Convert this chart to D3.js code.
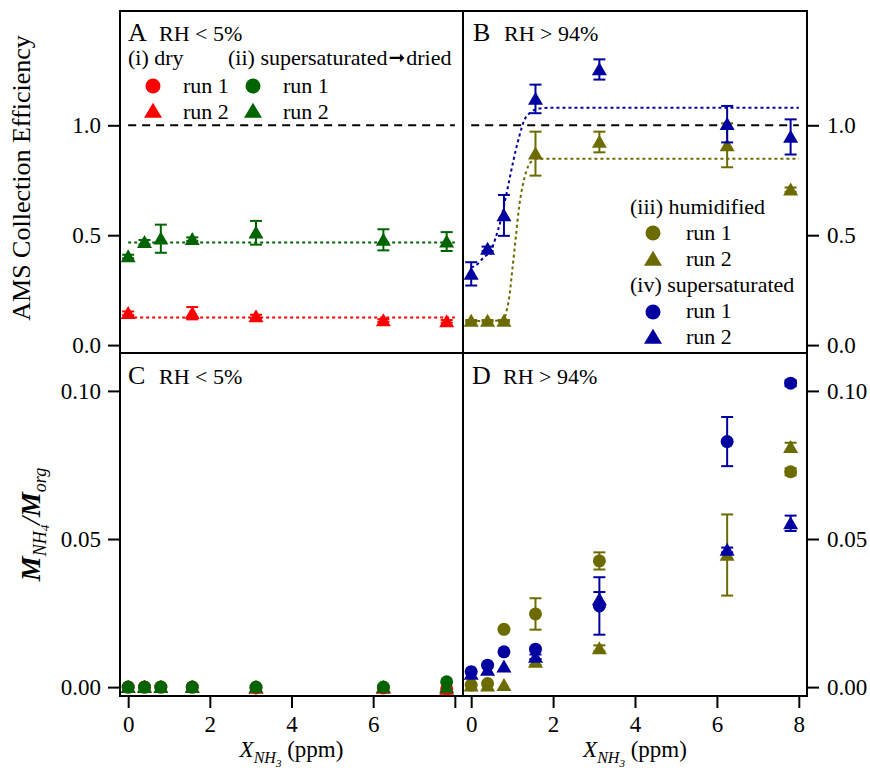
<!DOCTYPE html>
<html><head><meta charset="utf-8">
<script src="https://cdn.jsdelivr.net/npm/d3@7"></script>
<style>
body{margin:0;background:#fff;}
svg{display:block;}
text{font-family:"Liberation Serif","Times New Roman",serif;fill:#000;}
</style></head><body>
<svg id="chart" width="870" height="771"></svg>
<script>
// ---------------- DATA ----------------
const xVals = [0, 0.4, 0.8, 1.57, 3.13, 6.25, 7.8];     // X_NH3 (ppm)
const xTicks = [0, 2, 4, 6, 8];
const ceTicks = [0, 0.5, 1.0];
const ratioTicks = [0, 0.05, 0.10];

// Panel A: RH < 5% (collection efficiency)
const dryRun2X = [0, 1.57, 3.13, 6.25, 7.8];
const dryRun2CE = [0.145, 0.145, 0.13, 0.112, 0.108];
const dryRun2CEErr = [0.008, 0.028, 0.008, 0.006, 0.006];
const dryFitCE = 0.125;
const ssDriedRun2CE = [0.403, 0.468, 0.484, 0.482, 0.511, 0.479, 0.471];
const ssDriedRun2CEErr = [0.008, 0.01, 0.064, 0.008, 0.054, 0.048, 0.043];
const ssDriedFitCE = 0.467;
const flatFitX = [0, 8];
const unityX = [0, 8];

// Panel B: RH > 94% (collection efficiency)
const humRun2CE = [0.11, 0.11, 0.11, 0.871, 0.924, 0.909, 0.707];
const humRun2CEErr = [0.004, 0.004, 0.004, 0.1, 0.047, 0.1, 0.01];
const ssRun2CE = [0.324, 0.438, 0.59, 1.12, 1.254, 1.005, 0.947];
const ssRun2CEErr = [0.053, 0.01, 0.093, 0.065, 0.046, 0.083, 0.08];
const ssFitX  = [0, 0.11, 0.31, 0.48, 0.6, 0.72, 0.845, 0.93, 1.05, 1.17, 1.29, 1.46, 1.66, 2.0, 8.0];
const ssFitCE = [0.354, 0.362, 0.40, 0.43, 0.49, 0.567, 0.673, 0.75, 0.856, 0.947, 1.02, 1.06, 1.076, 1.08, 1.08];
const humFitX  = [0, 0.4, 0.8, 0.845, 0.93, 1.01, 1.09, 1.17, 1.25, 1.34, 1.46, 1.66, 2.0, 8.0];
const humFitCE = [0.11, 0.11, 0.115, 0.142, 0.218, 0.354, 0.491, 0.628, 0.719, 0.787, 0.833, 0.848, 0.848, 0.848];

// Panel C: RH < 5% (M_NH4/M_org)
const dryRun1Ratio     = [0, 0, 0, 0, -0.0003, -0.0003, -0.0006];
const dryRun2Ratio     = [0, 0, 0, 0, -0.0003, -0.0003, -0.0006];
const ssDriedRun1Ratio = [0, 0, 0, 0, 0, 0, 0.0018];
const ssDriedRun2Ratio = [0, 0, 0, 0, 0, 0, 0];

// Panel D: RH > 94% (M_NH4/M_org)
const humRun1X = [0, 0.4, 0.8, 1.57, 3.13, 7.8];
const humRun1Ratio = [0.0007, 0.0012, 0.0195, 0.0247, 0.0426, 0.0727];
const humRun1Err   = [0, 0, 0, 0.0053, 0.0029, 0.0012];
const humRun2Ratio = [0.0005, 0.0005, 0.0007, 0.0085, 0.0131, 0.0446, 0.081];
const humRun2Err   = [0, 0, 0, 0.001, 0.001, 0.0137, 0.0015];
const ssRun1Ratio  = [0.0052, 0.0074, 0.0119, 0.0128, 0.0274, 0.0829, 0.1026];
const ssRun1Err    = [0, 0, 0, 0, 0.0097, 0.0083, 0.001];
const ssRun2Ratio  = [0.0045, 0.0058, 0.0069, 0.0102, 0.0296, 0.0463, 0.0553];
const ssRun2Err    = [0, 0, 0, 0.0008, 0.0025, 0.0008, 0.0026];

// ---------------- STYLE ----------------
const RED = "#ff0000", GREEN = "#006400", OLIVE = "#6b6b00", BLUE = "#0000a0";
const SERIF = '"Liberation Serif","Times New Roman",serif';
const SANS = '"Liberation Sans",Arial,sans-serif';

const svg = d3.select("#chart");
const L = 120, M = 463, R = 807, T = 11, HM = 353, B = 696;

const xL = d3.scaleLinear().domain([-0.2, 8.2]).range([L, M]);
const xR = d3.scaleLinear().domain([-0.2, 8.2]).range([M, R]);
const yT = d3.scaleLinear().domain([-0.036, 1.52]).range([HM, T]);
const yB = d3.scaleLinear().domain([-0.003, 0.1128]).range([B, HM]);

function triType(w, h) {
  return { draw(ctx) { ctx.moveTo(0, -h * 0.55); ctx.lineTo(w / 2, h * 0.45); ctx.lineTo(-w / 2, h * 0.45); ctx.closePath(); } };
}
const symCircle = r => d3.symbol().type(d3.symbolCircle).size(Math.PI * r * r)();
const symTri = (w, h) => d3.symbol().type(triType(w, h))();

function series(xs, ys, errs, xs_, ys_, color, shape) {
  const g = svg.append("g");
  xs.forEach((xv, i) => {
    const cx = xs_(xv), cy = ys_(ys[i]);
    const e = errs ? errs[i] : 0;
    if (e && e > 0) {
      const y1 = ys_(ys[i] + e), y2 = ys_(ys[i] - e);
      g.append("line").attr("x1", cx).attr("x2", cx).attr("y1", y1).attr("y2", y2)
        .attr("stroke", color).attr("stroke-width", 2);
      [y1, y2].forEach(yy => g.append("line").attr("x1", cx - 6).attr("x2", cx + 6)
        .attr("y1", yy).attr("y2", yy).attr("stroke", color).attr("stroke-width", 2));
    }
    g.append("path").attr("d", shape === "c" ? symCircle(6.5) : symTri(15, 13))
      .attr("transform", `translate(${cx},${cy})`).attr("fill", color);
  });
}

function fitLine(xs, ys, xs_, ys_, color, dash) {
  svg.append("path")
    .datum(xs.map((x, i) => [x, ys[i]]))
    .attr("d", d3.line().x(d => xs_(d[0])).y(d => ys_(d[1])).curve(d3.curveMonotoneX))
    .attr("fill", "none").attr("stroke", color).attr("stroke-width", 2)
    .attr("stroke-dasharray", dash);
}

// ---------------- PANEL A ----------------
fitLine(unityX, unityX.map(() => 1), xL, yT, "#000", "8,6");
fitLine(flatFitX, flatFitX.map(() => dryFitCE), xL, yT, RED, "3,3");
fitLine(flatFitX, flatFitX.map(() => ssDriedFitCE), xL, yT, GREEN, "3,3");
series(dryRun2X, dryRun2CE, dryRun2CEErr, xL, yT, RED, "t");
series(xVals, ssDriedRun2CE, ssDriedRun2CEErr, xL, yT, GREEN, "t");

// ---------------- PANEL B ----------------
fitLine(unityX, unityX.map(() => 1), xR, yT, "#000", "8,6");
fitLine(humFitX, humFitCE, xR, yT, OLIVE, "3,3");
fitLine(ssFitX, ssFitCE, xR, yT, BLUE, "3,3");
series(xVals, humRun2CE, humRun2CEErr, xR, yT, OLIVE, "t");
series(xVals, ssRun2CE, ssRun2CEErr, xR, yT, BLUE, "t");

// ---------------- PANEL C ----------------
series(xVals, dryRun2Ratio, null, xL, yB, RED, "t");
series(xVals, dryRun1Ratio, null, xL, yB, RED, "c");
series(xVals, ssDriedRun2Ratio, null, xL, yB, GREEN, "t");
series(xVals, ssDriedRun1Ratio, null, xL, yB, GREEN, "c");

// ---------------- PANEL D ----------------
series(humRun1X, humRun1Ratio, humRun1Err, xR, yB, OLIVE, "c");
series(xVals, humRun2Ratio, humRun2Err, xR, yB, OLIVE, "t");
series(xVals, ssRun1Ratio, ssRun1Err, xR, yB, BLUE, "c");
series(xVals, ssRun2Ratio, ssRun2Err, xR, yB, BLUE, "t");

// ---------------- FRAME ----------------
svg.append("rect").attr("x", L).attr("y", T).attr("width", R - L).attr("height", B - T)
  .attr("fill", "none").attr("stroke", "#000").attr("stroke-width", 2);
svg.append("line").attr("x1", M).attr("x2", M).attr("y1", T).attr("y2", B).attr("stroke", "#000").attr("stroke-width", 2);
svg.append("line").attr("x1", L).attr("x2", R).attr("y1", HM).attr("y2", HM).attr("stroke", "#000").attr("stroke-width", 2);

// ---------------- AXES ----------------
function styleAxis(g) {
  g.select(".domain").remove();
  g.selectAll(".tick line").attr("stroke", "#000").attr("stroke-width", 2);
  g.selectAll(".tick text").attr("font-family", SERIF).attr("font-size", 23).attr("fill", "#000");
  g.attr("font-family", null).attr("font-size", null);
}
const f1 = d3.format(".1f"), f2 = d3.format(".2f");
svg.append("g").attr("transform", `translate(${L},0)`)
  .call(d3.axisLeft(yT).tickValues(ceTicks).tickFormat(f1).tickSize(12).tickPadding(7)).call(styleAxis);
svg.append("g").attr("transform", `translate(${R},0)`)
  .call(d3.axisRight(yT).tickValues(ceTicks).tickFormat(f1).tickSize(12).tickPadding(8)).call(styleAxis);
svg.append("g").attr("transform", `translate(${L},0)`)
  .call(d3.axisLeft(yB).tickValues(ratioTicks).tickFormat(f2).tickSize(12).tickPadding(7)).call(styleAxis);
svg.append("g").attr("transform", `translate(${R},0)`)
  .call(d3.axisRight(yB).tickValues(ratioTicks).tickFormat(f2).tickSize(12).tickPadding(8)).call(styleAxis);
svg.append("g").attr("transform", `translate(0,${B})`)
  .call(d3.axisBottom(xL).tickValues(xTicks).tickFormat(d => d === 8 ? "" : d).tickSize(12).tickPadding(8)).call(styleAxis);
svg.append("g").attr("transform", `translate(0,${B})`)
  .call(d3.axisBottom(xR).tickValues(xTicks).tickFormat(d => d).tickSize(12).tickPadding(8)).call(styleAxis);

// ---------------- PANEL LABELS ----------------
function panelLabel(letter, rh, x, y) {
  svg.append("text").attr("x", x).attr("y", y).attr("font-family", SANS).attr("font-size", 26).text(letter);
  svg.append("text").attr("x", x + 31).attr("y", y).attr("font-family", SERIF).attr("font-size", 22).text(rh);
}
panelLabel("A", "RH < 5%", 128, 41);
panelLabel("B", "RH > 94%", 473, 41);
panelLabel("C", "RH < 5%", 128, 384);
panelLabel("D", "RH > 94%", 472, 384);

// ---------------- LEGENDS ----------------
function txt(s, x, y) {
  return svg.append("text").attr("x", x).attr("y", y).attr("font-family", SERIF).attr("font-size", 22).text(s);
}
function legMarker(shape, color, x, y) {
  svg.append("path").attr("d", shape === "c" ? symCircle(7.5) : symTri(18, 15))
    .attr("transform", `translate(${x},${y})`).attr("fill", color);
}
txt("(i) dry", 128, 65);
const ii = svg.append("text").attr("x", 228).attr("y", 65).attr("font-family", SERIF).attr("font-size", 22);
ii.append("tspan").text("(ii) supersaturated");
ii.append("tspan").attr("font-family", '"DejaVu Sans",sans-serif').attr("font-size", 20).attr("dx", 1).attr("dy", -1).text("\u279E");
ii.append("tspan").attr("dy", 1).attr("dx", 1).text("dried");
legMarker("c", RED, 153, 86);  txt("run 1", 183, 93);
legMarker("t", RED, 153, 111); txt("run 2", 183, 119);
legMarker("c", GREEN, 253, 86);  txt("run 1", 283, 93);
legMarker("t", GREEN, 253, 111); txt("run 2", 283, 119);

txt("(iii) humidified", 630, 214);
legMarker("c", OLIVE, 653, 233); txt("run 1", 686, 240);
legMarker("t", OLIVE, 653, 259); txt("run 2", 686, 266);
txt("(iv) supersaturated", 630, 292);
legMarker("c", BLUE, 653, 312); txt("run 1", 686, 318);
legMarker("t", BLUE, 653, 337); txt("run 2", 686, 344);

// ---------------- AXIS TITLES ----------------
svg.append("text").attr("transform", `translate(30,${(T + HM) / 2 - 4}) rotate(-90)`)
  .attr("text-anchor", "middle").attr("font-family", SERIF).attr("font-size", 26).text("AMS Collection Efficiency");

const mt = svg.append("text").attr("transform", `translate(40,${(HM + B) / 2}) rotate(-90)`)
  .attr("text-anchor", "middle").attr("font-family", SERIF).attr("font-size", 28);
mt.append("tspan").attr("font-weight", "bold").attr("font-style", "italic").text("M");
mt.append("tspan").attr("font-style", "italic").attr("font-size", 18).attr("dy", 6).text("NH");
mt.append("tspan").attr("font-style", "italic").attr("font-size", 13).attr("dy", 3).text("4");
mt.append("tspan").attr("font-style", "italic").attr("dy", -9).text("/");
mt.append("tspan").attr("font-weight", "bold").attr("font-style", "italic").text("M");
mt.append("tspan").attr("font-style", "italic").attr("font-size", 18).attr("dy", 6).text("org");

function xTitle(cx) {
  const t = svg.append("text").attr("x", cx).attr("y", 757).attr("text-anchor", "middle")
    .attr("font-family", SERIF).attr("font-size", 23);
  t.append("tspan").attr("font-style", "italic").text("X");
  t.append("tspan").attr("font-style", "italic").attr("font-size", 16).attr("dy", 6).text("NH");
  t.append("tspan").attr("font-style", "italic").attr("font-size", 11).attr("dy", 4).text("3");
  t.append("tspan").attr("dy", -10).text(" (ppm)");
}
xTitle((L + M) / 2);
xTitle((M + R) / 2);
</script>
</body></html>
